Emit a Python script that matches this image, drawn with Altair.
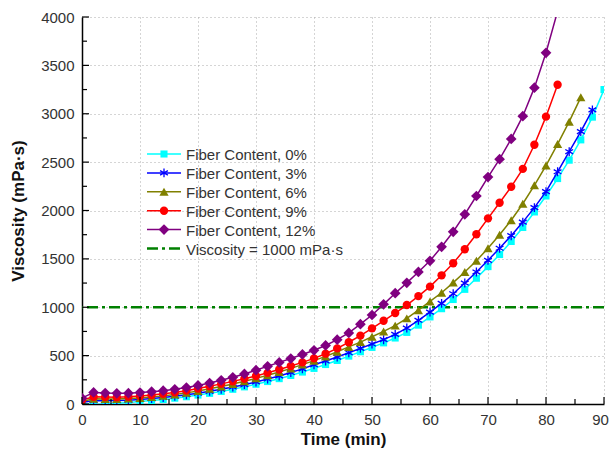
import altair as alt
import pandas as pd

# ---------------- data ----------------
time = [0, 2, 4, 6, 8, 10, 12, 14, 16, 18, 20, 22, 24, 26, 28, 30, 32, 34, 36, 38,
        40, 42, 44, 46, 48, 50, 52, 54, 56, 58, 60, 62, 64, 66, 68, 70, 72, 74, 76, 78,
        80, 82, 84, 86, 88, 90]

series_names = ["Fiber Content, 0%", "Fiber Content, 3%", "Fiber Content, 6%",
                "Fiber Content, 9%", "Fiber Content, 12%"]

visc_0 = [5, -5, 0, 8, 16, 25, 35, 47, 60, 75,
          92, 110, 130, 152, 177, 204, 232, 262, 295, 330,
          368, 408, 450, 495, 540, 585, 632, 682, 740, 815,
          900, 985, 1080, 1185, 1300, 1420, 1545, 1680, 1825, 1985,
          2150, 2330, 2520, 2730, 2965, 3250]
visc_3 = [15, 35, 33, 35, 40, 47, 56, 67, 80, 95,
          112, 131, 152, 175, 200, 228, 258, 290, 325, 363,
          405, 445, 485, 530, 575, 620, 665, 720, 785, 865,
          950, 1040, 1140, 1250, 1365, 1485, 1610, 1740, 1880, 2030,
          2195, 2400, 2608, 2815, 3040]
visc_6 = [25, 55, 52, 52, 56, 63, 72, 84, 98, 115,
          135, 157, 181, 207, 235, 265, 297, 331, 368, 407,
          448, 492, 540, 590, 640, 695, 750, 810, 885, 970,
          1060, 1150, 1255, 1365, 1480, 1610, 1750, 1900, 2070, 2260,
          2465, 2687, 2918, 3170]
visc_9 = [40, 75, 72, 70, 74, 82, 92, 105, 120, 138,
          160, 183, 208, 234, 261, 290, 322, 356, 392, 430,
          472, 520, 575, 638, 707, 782, 860, 940, 1023, 1115,
          1213, 1330, 1455, 1600, 1755, 1919, 2080, 2245, 2430, 2680,
          2970, 3300]
visc_12 = [60, 120, 113, 110, 112, 118, 127, 138, 152, 170,
           192, 217, 245, 276, 311, 350, 390, 430, 470, 512,
           555, 605, 665, 735, 825, 920, 1030, 1145, 1252, 1365,
           1480, 1625, 1780, 1960, 2150, 2345, 2530, 2740, 2975, 3270,
           3630, 4060]

threshold = 1000
threshold_label = "Viscosity = 1000 mPa\u00b7s"

x_major = [0, 10, 20, 30, 40, 50, 60, 70, 80, 90]
x_minor = [5, 15, 25, 35, 45, 55, 65, 75, 85]
y_major = [0, 500, 1000, 1500, 2000, 2500, 3000, 3500, 4000]
y_minor = [250, 750, 1250, 1750, 2250, 2750, 3250, 3750]

# ---------------- styles ----------------
FONT = "Liberation Sans"
colors = ["#00FFFF", "#0000FF", "#808000", "#FF0000", "#800080"]
ASTERISK = "M0,-1L0,1M-0.87,-0.5L0.87,0.5M-0.87,0.5L0.87,-0.5"
shapes = ["square", ASTERISK, "triangle-up", "circle", "diamond"]
filled = [True, False, True, True, True]
sizes = [50, 80, 85, 70, 115]
all_vals = [visc_0, visc_3, visc_6, visc_9, visc_12]

W, H = 522, 387

xs = alt.Scale(domain=[0, 90], nice=False, zero=False)
ys = alt.Scale(domain=[0, 4000], nice=False, zero=False)
x_axis = alt.Axis(values=x_major, title="Time (min)", format="d",
                  labelFlush=False, labelOverlap=False,
                  labelOffset={"expr": "datum.value == 90 ? -4 : 0"})
y_axis = alt.Axis(values=y_major, title="Viscosity (mPa\u00b7s)", format="d",
                  labelFlush=False, labelOverlap=False)
X = alt.X("t:Q", scale=xs, axis=x_axis)
Y = alt.Y("v:Q", scale=ys, axis=y_axis)

layers = []

# threshold dash-dot line
thr_df = pd.DataFrame({"v": [threshold]})
layers.append(
    alt.Chart(thr_df).mark_rule(color="#008000", strokeWidth=2.5,
                                strokeDash=[11, 4, 3, 4]).encode(y=Y)
)

# series
for name, vals, c, shp, fl, sz in zip(series_names, all_vals, colors, shapes, filled, sizes):
    d = pd.DataFrame({"t": time[:len(vals)], "v": vals, "series": name})
    layers.append(alt.Chart(d).mark_line(color=c, strokeWidth=1.5, clip=True).encode(x=X, y=Y))
    if fl:
        pt = alt.Chart(d).mark_point(shape=shp, filled=True, color=c, size=sz,
                                     opacity=1, clip=True)
    else:
        pt = alt.Chart(d).mark_point(shape=shp, filled=False, color=c, size=sz,
                                     strokeWidth=1.3, opacity=1, clip=True)
    layers.append(pt.encode(x=X, y=Y))

# inward ticks
layers.append(alt.Chart(pd.DataFrame({"v": y_major})).mark_rule(color="black", strokeWidth=1.2)
              .encode(y=Y, x=alt.value(0), x2=alt.value(7)))
layers.append(alt.Chart(pd.DataFrame({"v": y_minor})).mark_rule(color="black", strokeWidth=1.2)
              .encode(y=Y, x=alt.value(0), x2=alt.value(5)))
layers.append(alt.Chart(pd.DataFrame({"t": x_major})).mark_rule(color="black", strokeWidth=1.2)
              .encode(x=X, y=alt.value(H), y2=alt.value(H - 7)))
layers.append(alt.Chart(pd.DataFrame({"t": x_minor})).mark_rule(color="black", strokeWidth=1.2)
              .encode(x=X, y=alt.value(H), y2=alt.value(H - 5)))

# manual legend
leg_labels = series_names + [threshold_label]
leg_x0, leg_x1, leg_xm, leg_xt = 65, 99, 82, 104
leg_y0, leg_dy = 137, 18.9
for i, lab in enumerate(leg_labels):
    py = leg_y0 + i * leg_dy
    ld = pd.DataFrame({"label": [lab]})
    if i < len(series_names):
        c = colors[i]
        layers.append(alt.Chart(ld).mark_rule(color=c, strokeWidth=1.5)
                      .encode(x=alt.value(leg_x0), x2=alt.value(leg_x1), y=alt.value(py)))
        if filled[i]:
            mk = alt.Chart(ld).mark_point(shape=shapes[i], filled=True, color=c,
                                          size=sizes[i], opacity=1)
        else:
            mk = alt.Chart(ld).mark_point(shape=shapes[i], filled=False, color=c,
                                          size=sizes[i], strokeWidth=1.3, opacity=1)
        layers.append(mk.encode(x=alt.value(leg_xm), y=alt.value(py)))
    else:
        layers.append(alt.Chart(ld).mark_rule(color="#008000", strokeWidth=2.5,
                                              strokeDash=[11, 4, 3, 4])
                      .encode(x=alt.value(leg_x0), x2=alt.value(leg_x1), y=alt.value(py)))
    layers.append(alt.Chart(ld).mark_text(align="left", baseline="middle", font=FONT,
                                          fontSize=15, color="#333333")
                  .encode(x=alt.value(leg_xt), y=alt.value(py + 1), text="label:N"))

chart = alt.layer(*layers).properties(
    width=W, height=H,
    padding={"left": 82, "top": 17, "right": 6, "bottom": 47},
    autosize=alt.AutoSizeParams(type="none"),
).configure_view(stroke=None).configure_axis(
    domainColor="black", domainWidth=1.5, ticks=False,
    grid=True, gridColor="#aaaaaa", gridDash=[1, 3], gridWidth=1,
    labelFont=FONT, labelFontSize=15, labelColor="#333333", labelPadding=8,
    titleFont=FONT, titleFontSize=17, titleFontWeight="bold", titleColor="#111111",
).configure_axisX(titlePadding=4).configure_axisY(titlePadding=13)

chart.save("out.html", embed_options={"renderer": "svg", "actions": False})
